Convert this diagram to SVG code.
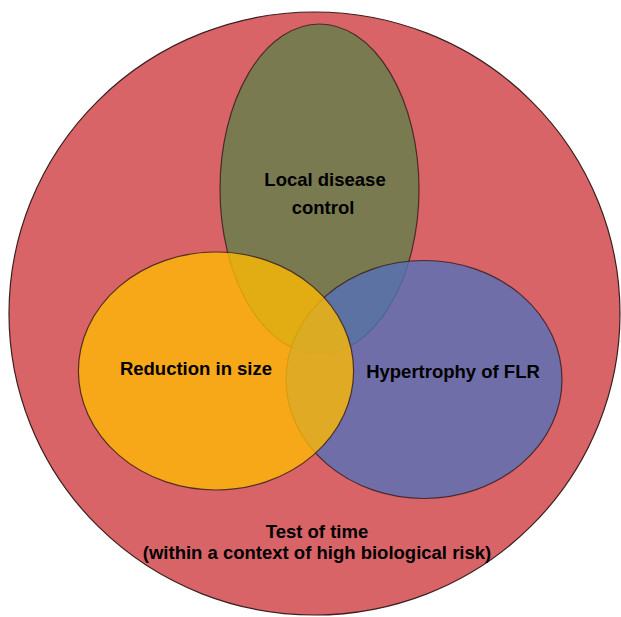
<svg xmlns="http://www.w3.org/2000/svg" width="621" height="617" viewBox="0 0 621 617">
<style>
.set{stroke:#3b1f1f;stroke-width:1.2}
.lbl{font-family:"Liberation Sans",Arial,sans-serif;font-weight:bold;font-size:18.5px;fill:#000;text-anchor:middle}
</style>
<rect width="621" height="617" fill="#fff"/>
<g id="test-of-time">
<ellipse class="set" cx="314.5" cy="313.5" rx="305.5" ry="301.5" fill="#D96468"/>
<text class="lbl" x="317" y="538">Test of time</text>
<text class="lbl" x="317" y="559">(within a context of high biological risk)</text>
</g>
<g id="local-disease-control">
<ellipse class="set" cx="319.5" cy="189" rx="99.5" ry="165" fill="#62804A" fill-opacity="0.8" stroke-opacity="0.85"/>
</g>
<g id="hypertrophy-of-flr">
<ellipse class="set" cx="424" cy="379.5" rx="138" ry="119" fill="#5570B8" fill-opacity="0.8" stroke-opacity="0.85"/>
</g>
<g id="reduction-in-size">
<ellipse class="set" cx="216" cy="371" rx="137.6" ry="119" fill="#FCB904" fill-opacity="0.8" stroke-opacity="0.85"/>
</g>
<g id="labels">
<text class="lbl" x="325" y="186">Local disease</text>
<text class="lbl" x="323" y="214">control</text>
<text class="lbl" x="196" y="375">Reduction in size</text>
<text class="lbl" x="453" y="378">Hypertrophy of FLR</text>
</g>
</svg>
